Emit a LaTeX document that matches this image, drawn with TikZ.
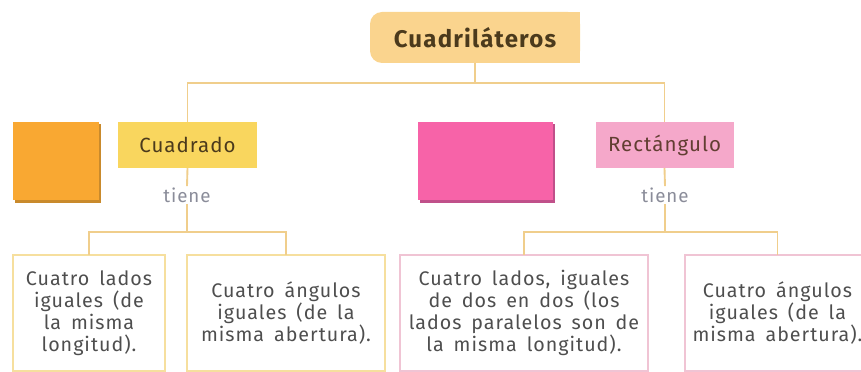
\documentclass[tikz,border=0pt]{standalone}
\usepackage{fontspec}
\setmainfont{Fira Sans}[LetterSpace=5,WordSpace=1.6]
\usepackage{xcolor}
\usetikzlibrary{positioning,calc}
\definecolor{crema}{HTML}{FAD48E}
\definecolor{cafe}{HTML}{4B3A1C}
\definecolor{lineacol}{HTML}{F0CE8C}
\definecolor{naranja}{HTML}{F9A832}
\definecolor{naranjaosc}{HTML}{C98A2C}
\definecolor{amarillo}{HTML}{F9D65E}
\definecolor{rosa}{HTML}{F763A8}
\definecolor{rosaosc}{HTML}{C0508A}
\definecolor{rosaclaro}{HTML}{F5A8CA}
\definecolor{bordeam}{HTML}{F6DF9E}
\definecolor{borderos}{HTML}{F0C4D4}
\definecolor{gristexto}{HTML}{4E4E4E}
\definecolor{gristiene}{HTML}{8A8C99}
\tikzstyle{linea} = [lineacol, line width=1.6pt]
\tikzstyle{clase} = [inner sep=0pt, outer sep=0pt, minimum height=1.38cm, text=cafe, font=\fontsize{17.5}{20}\selectfont]
\tikzstyle{tiene} = [inner sep=1pt, text=gristiene, font=\fontsize{16}{18}\selectfont]
\tikzstyle{propiedad} = [draw, line width=1.2pt, inner sep=0pt, outer sep=0pt, minimum height=3.48cm, align=center, text=gristexto, font=\fontsize{16.8}{18.8}\selectfont]

\begin{document}
\begin{tikzpicture}[x=0.03cm,y=-0.03cm]
\useasboundingbox (0,0) rectangle (861,372);
\clip (0,0) rectangle (861,372);

% titulo
\fill[crema, rounded corners=0.36cm] (370,12) rectangle (580,63);
\fill[crema] (400,12) rectangle (580,63);
\node[text=cafe, font=\fontsize{20.5}{24}\selectfont\bfseries] (raiz) at (475,37.5) {Cuadriláteros};
\coordinate (raizs) at (475,63);

% figuras
\fill[naranjaosc] (15,124) rectangle (101,203);
\fill[naranja] (13,122) rectangle (99,200);
\fill[rosaosc] (420,124) rectangle (555,203);
\fill[rosa] (418,122) rectangle (553,200);

\node[clase, fill=amarillo, minimum width=4.14cm] (cuad) at (187.5,145) {Cuadrado};
\node[clase, fill=rosaclaro, minimum width=4.14cm, text=cafe!80!rosaosc] (rect) at (664.5,145) {Rectángulo};

\node[tiene] (tiene1) at (187,195) {tiene};
\node[tiene] (tiene2) at (665,195) {tiene};

\node[propiedad, draw=bordeam, minimum width=4.56cm] (lado1) at (89,313) {Cuatro lados\\iguales (de\\la misma\\longitud).};
\node[propiedad, draw=bordeam, minimum width=5.94cm] (ang1) at (286,313) {Cuatro ángulos\\iguales (de la\\misma abertura).};
\node[propiedad, draw=borderos, minimum width=7.44cm] (lado2) at (524,313) {Cuatro lados, iguales\\de dos en dos (los\\lados paralelos son de\\la misma longitud).};
\node[propiedad, draw=borderos, minimum width=5.55cm] (ang2) at (777.5,313) {Cuatro ángulos\\iguales (de la\\misma abertura).};

% conectores
\coordinate (barra) at (475,83);
\coordinate (b1) at (187,232);
\coordinate (b2) at (665,232);
\draw[linea] (raizs) -- (barra);
\draw[linea] (cuad.north) |- (barra) -| (rect.north);
\draw[linea] (cuad.south) -- (tiene1.north);
\draw[linea] (tiene2.north) -- (rect.south);
\draw[linea] (tiene1.south) -- (b1);
\draw[linea] (tiene2.south) -- (b2);
\draw[linea] (lado1.north) |- (b1) -| (ang1.north);
\draw[linea] (lado2.north) |- (b2) -| (ang2.north);
\end{tikzpicture}
\end{document}
